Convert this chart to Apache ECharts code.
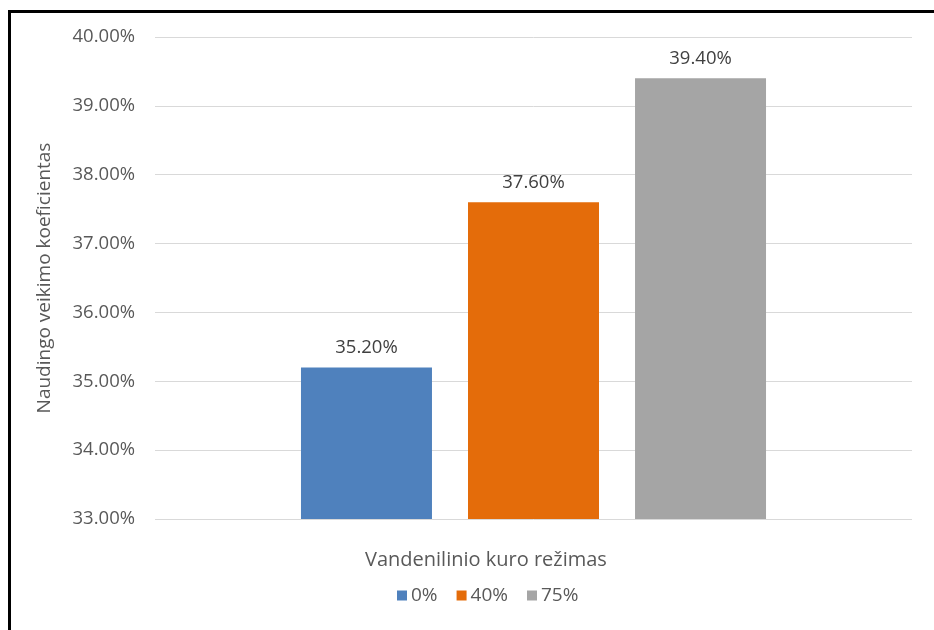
<!DOCTYPE html>
<html>
<head>
<meta charset="utf-8">
<script src="https://cdn.jsdelivr.net/npm/echarts@6/dist/echarts.min.js"></script>
<style>
  html, body { margin: 0; padding: 0; background: #fff; }
  #frame { position: absolute; left: 8px; top: 10px; width: 926px; height: 620px;
           border-left: 3px solid #000; border-top: 3px solid #000; box-sizing: border-box; }
  #chart { position: absolute; left: 0; top: 0; width: 934px; height: 630px; }
</style>
</head>
<body>
<div id="frame"></div>
<div id="chart"></div>
<script>
// Efficiency by hydrogen fuel share
const categories = ['Vandenilinio kuro režimas'];
const seriesNames = ['0%', '40%', '75%'];
const seriesValues = [[35.2], [37.6], [39.4]];
const seriesColors = ['#4F81BD', '#E46C0A', '#A5A5A5'];
const yTicks = { min: 33, max: 40, step: 1 };

const font = '"Open Sans", sans-serif';
const chart = echarts.init(document.getElementById('chart'), null, { renderer: 'canvas' });

chart.setOption({
  animation: false,
  textStyle: { fontFamily: font },
  grid: { left: 155, right: 22, top: 37, bottom: 111, containLabel: false },
  xAxis: {
    type: 'category',
    data: categories,
    axisLine: { show: false },
    axisTick: { show: false },
    axisLabel: { show: false }
  },
  yAxis: {
    type: 'value',
    min: yTicks.min,
    max: yTicks.max,
    interval: yTicks.step,
    name: 'Naudingo veikimo koeficientas',
    nameLocation: 'middle',
    nameGap: 101,
    nameRotate: 90,
    nameTextStyle: { color: '#595959', fontSize: 19, fontFamily: font },
    axisLine: { show: false },
    axisTick: { show: false },
    axisLabel: {
      color: '#595959', fontSize: 18.5, fontFamily: font, margin: 20,
      formatter: v => v.toFixed(2) + '%'
    },
    splitLine: { lineStyle: { color: '#D9D9D9', width: 1 } }
  },
  legend: {
    data: seriesNames,
    left: 397,
    top: 586,
    padding: 0,
    itemWidth: 10,
    itemHeight: 10,
    itemGap: 19,
    icon: 'rect',
    textStyle: { color: '#595959', fontSize: 19, fontFamily: font, padding: [0, 0, 0, -1] }
  },
  graphic: [{
    type: 'text',
    left: 365,
    top: 550,
    style: {
      text: 'Vandenilinio kuro režimas',
      fill: '#595959',
      font: '20px ' + font
    }
  }],
  series: seriesNames.map((name, i) => ({
    name: name,
    type: 'bar',
    data: seriesValues[i],
    barWidth: 131,
    barGap: '27.5%',
    itemStyle: { color: seriesColors[i] },
    label: {
      show: true,
      position: 'top',
      distance: 10,
      color: '#404040',
      fontSize: 18.5,
      fontFamily: font,
      formatter: p => p.value.toFixed(2) + '%'
    }
  }))
});
</script>
</body>
</html>
